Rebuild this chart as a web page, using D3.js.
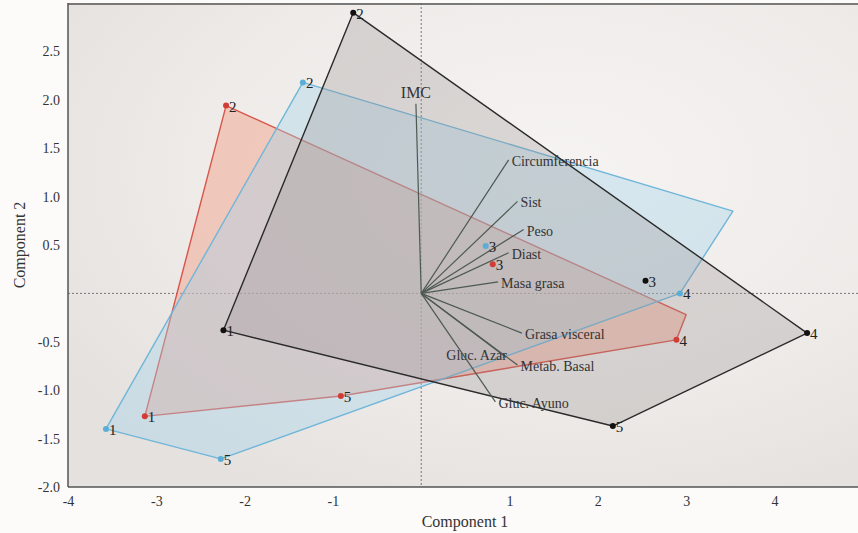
<!DOCTYPE html>
<html>
<head>
<meta charset="utf-8">
<script src="https://cdn.jsdelivr.net/npm/d3@7/dist/d3.min.js"></script>
<style>
  html, body { margin: 0; padding: 0; background: #fcfbfa; }
  svg { display: block; }
  text { font-family: "Liberation Serif", "Times New Roman", serif; }
</style>
</head>
<body>
<svg id="chart" width="858" height="533"></svg>
<script>
// PCA scores per group (Component 1, Component 2); the last entry of
// the first two groups is an unlabeled observation that shapes the hull.
const groupNames = ["Grupo A", "Grupo B", "Grupo C"];
const scoreLabels = ["1", "2", "3", "4", "5", ""];

const groupA_pc1 = [-3.13, -2.21, 0.81, 2.89, -0.91, 3.00];
const groupA_pc2 = [-1.27, 1.94, 0.30, -0.48, -1.06, -0.22];

const groupB_pc1 = [-3.57, -1.34, 0.73, 2.93, -2.27, 3.53];
const groupB_pc2 = [-1.40, 2.18, 0.49, 0.00, -1.71, 0.85];

const groupC_pc1 = [-2.24, -0.77, 2.54, 4.37, 2.17];
const groupC_pc2 = [-0.38, 2.90, 0.13, -0.41, -1.37];

// Variable loadings (biplot vectors)
const variables = ["IMC", "Circumferencia", "Sist", "Peso", "Diast", "Masa grasa",
                   "Grasa visceral", "Metab. Basal", "Gluc. Azar", "Gluc. Ayuno"];
const load_pc1 = [-0.06, 0.99, 1.09, 1.16, 0.99, 0.87, 1.14, 1.09, 0.96, 0.84];
const load_pc2 = [1.96, 1.38, 0.95, 0.66, 0.42, 0.12, -0.41, -0.74, -0.66, -1.12];

const xTicks = [-4, -3, -2, -1, 1, 2, 3, 4];
const yTicks = [-2.0, -1.5, -1.0, -0.5, 0.5, 1.0, 1.5, 2.0, 2.5];

const svg = d3.select("#chart");
const W = 858, H = 533;
const pLeft = 68, pRight = 857, pTop = 3, pBottom = 487;

const x = d3.scaleLinear().domain([-4, 4.935]).range([pLeft, pRight]);
const y = d3.scaleLinear().domain([-2, 3]).range([pBottom, pTop]);

// plot background
const defs = svg.append("defs");
const grad = defs.append("radialGradient")
  .attr("id", "bg").attr("cx", "0.62").attr("cy", "0.35").attr("r", "0.75");
grad.append("stop").attr("offset", "0").attr("stop-color", "#f6f4f2");
grad.append("stop").attr("offset", "0.6").attr("stop-color", "#eeebe9");
grad.append("stop").attr("offset", "1").attr("stop-color", "#e4e1df");

svg.append("rect").attr("x", pLeft).attr("y", pTop)
  .attr("width", pRight - pLeft + 1).attr("height", pBottom - pTop)
  .attr("fill", "url(#bg)");

// zero reference lines
svg.append("line")
  .attr("x1", x(0)).attr("x2", x(0)).attr("y1", pTop).attr("y2", pBottom)
  .attr("stroke", "#777").attr("stroke-width", 1).attr("stroke-dasharray", "2,2");
svg.append("line")
  .attr("x1", pLeft).attr("x2", pRight + 1).attr("y1", y(0)).attr("y2", y(0))
  .attr("stroke", "#777").attr("stroke-width", 1).attr("stroke-dasharray", "2,2");

const groups = [
  { name: groupNames[0], pc1: groupA_pc1, pc2: groupA_pc2,
    stroke: "#d9544a", fill: "#f29c82", fillOpacity: 0.45, dot: "#d23c36" },
  { name: groupNames[1], pc1: groupB_pc1, pc2: groupB_pc2,
    stroke: "#70b6d8", fill: "#a3d2ea", fillOpacity: 0.38, dot: "#5aaed6" },
  { name: groupNames[2], pc1: groupC_pc1, pc2: groupC_pc2,
    stroke: "#2a2a2a", fill: "#958d8b", fillOpacity: 0.28, dot: "#111" }
];

groups.forEach(g => {
  g.points = g.pc1.map((v, i) => ({ px: x(v), py: y(g.pc2[i]), label: scoreLabels[i] }));
  g.hull = d3.polygonHull(g.points.map(p => [p.px, p.py]));
});

// convex hulls
const hullG = svg.append("g");
groups.forEach(g => {
  hullG.append("path")
    .attr("d", "M" + g.hull.map(p => p.join(",")).join("L") + "Z")
    .attr("fill", g.fill).attr("fill-opacity", g.fillOpacity)
    .attr("stroke", g.stroke).attr("stroke-width", 1.4)
    .attr("stroke-linejoin", "round");
});

// loading vectors
const vecG = svg.append("g");
variables.forEach((name, i) => {
  const ex = x(load_pc1[i]), ey = y(load_pc2[i]);
  vecG.append("line")
    .attr("x1", x(0)).attr("y1", y(0)).attr("x2", ex).attr("y2", ey)
    .attr("stroke", "#4d5a52").attr("stroke-width", 1.2);
  const t = vecG.append("text").text(name).attr("fill", "#333");
  if (name === "IMC") {
    t.attr("x", ex).attr("y", ey - 6).attr("text-anchor", "middle").attr("font-size", 16);
  } else if (name === "Gluc. Azar") {
    t.attr("x", ex + 1).attr("y", ey + 3).attr("text-anchor", "end").attr("font-size", 14);
  } else {
    t.attr("x", ex + 3).attr("y", ey + 6).attr("font-size", 14);
  }
});

// score points and labels
const ptG = svg.append("g");
groups.forEach(g => {
  g.points.filter(p => p.label !== "").forEach(p => {
    ptG.append("circle").attr("cx", p.px).attr("cy", p.py).attr("r", 3)
      .attr("fill", g.dot);
    ptG.append("text").text(p.label)
      .attr("x", p.px + 3).attr("y", p.py + 6)
      .attr("font-size", 15).attr("fill", "#222");
  });
});

// axes (plain hyphen for negative numbers)
const hyphen = f => d => f(d).replace("\u2212", "-");
const xAxis = d3.axisBottom(x).tickValues(xTicks).tickSize(0).tickPadding(9)
  .tickFormat(hyphen(d3.format("d")));
const yAxis = d3.axisLeft(y).tickValues(yTicks).tickSize(0).tickPadding(8)
  .tickFormat(hyphen(d3.format(".1f")));

const gx = svg.append("g").attr("transform", `translate(0,${pBottom})`).call(xAxis);
const gy = svg.append("g").attr("transform", `translate(${pLeft},0)`).call(yAxis);
[gx, gy].forEach(g => {
  g.select(".domain").remove();
  g.selectAll("text").attr("font-family", "Liberation Serif, serif")
    .attr("font-size", 14).attr("fill", "#333");
});

// frame lines
svg.append("line").attr("x1", pLeft).attr("x2", pLeft).attr("y1", pTop).attr("y2", pBottom)
  .attr("stroke", "#555").attr("stroke-width", 1.5);
svg.append("line").attr("x1", pLeft).attr("x2", W).attr("y1", pBottom).attr("y2", pBottom)
  .attr("stroke", "#555").attr("stroke-width", 1.5);
svg.append("line").attr("x1", pLeft).attr("x2", W).attr("y1", pTop + 1).attr("y2", pTop + 1)
  .attr("stroke", "#555").attr("stroke-width", 1.5);

// axis titles
svg.append("text").text("Component 1")
  .attr("x", 465).attr("y", 527).attr("text-anchor", "middle")
  .attr("font-size", 16).attr("fill", "#333");
svg.append("text").text("Component 2")
  .attr("transform", "translate(25,245) rotate(-90)")
  .attr("text-anchor", "middle").attr("font-size", 16).attr("fill", "#333");
</script>
</body>
</html>
